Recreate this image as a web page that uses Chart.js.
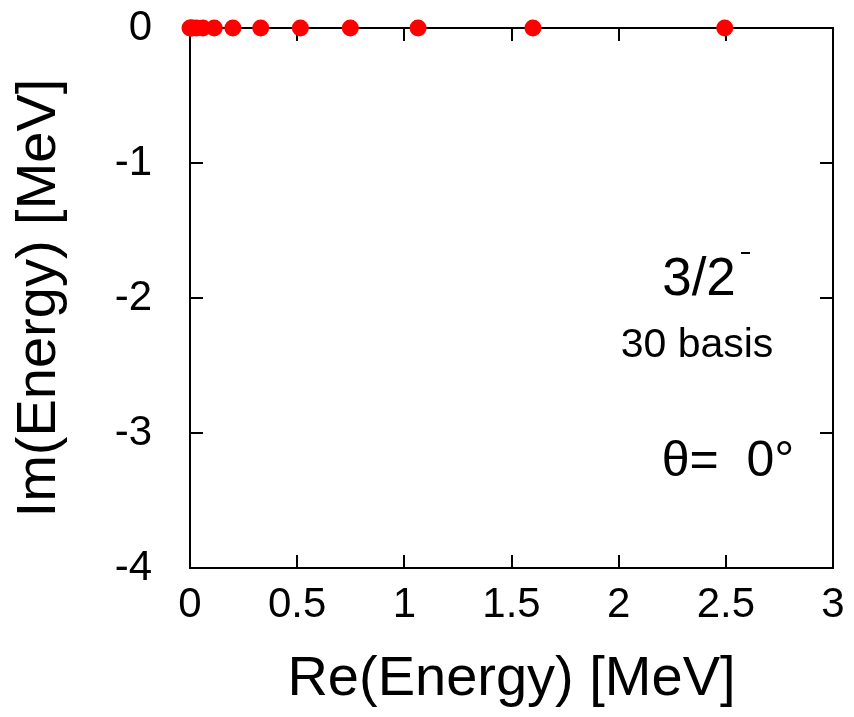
<!DOCTYPE html>
<html>
<head>
<meta charset="utf-8">
<script src="https://cdn.jsdelivr.net/npm/chart.js@4.4.1/dist/chart.umd.min.js"></script>
<style>
  html, body { margin: 0; padding: 0; background: #fff; }
  #wrap { width: 854px; height: 717px; }
</style>
</head>
<body>
<div id="wrap"><canvas id="chart" width="854" height="717"></canvas></div>
<script>
const reEnergy = [0.0, 0.004, 0.012, 0.03, 0.06, 0.113, 0.2, 0.33, 0.515, 0.748, 1.064, 1.6, 2.495];
const imEnergy = [0, 0, 0, 0, 0, 0, 0, 0, 0, 0, 0, 0, 0];

const xTitle = 'Re(Energy) [MeV]';
const yTitle = 'Im(Energy) [MeV]';
const stateLabel = '3/2';
const basisLabel = '30 basis';
const angleLabel = 'θ=  0°';

const FONT = '"Liberation Sans", Arial, sans-serif';

// gnuplot style frame: border + inward ticks mirrored on all four sides
const framePlugin = {
    id: 'frame',
    beforeDatasetsDraw(chart) {
        const { ctx, chartArea: a, scales: { x, y } } = chart;
        const len = 13;
        ctx.save();
        ctx.strokeStyle = '#000';
        ctx.lineWidth = 2;
        ctx.strokeRect(a.left, a.top, a.right - a.left, a.bottom - a.top);
        ctx.beginPath();
        x.ticks.forEach(t => {
            const px = Math.round(x.getPixelForValue(t.value));
            ctx.moveTo(px, a.bottom); ctx.lineTo(px, a.bottom - len);
            ctx.moveTo(px, a.top);    ctx.lineTo(px, a.top + len);
        });
        y.ticks.forEach(t => {
            const py = Math.round(y.getPixelForValue(t.value));
            ctx.moveTo(a.left, py);  ctx.lineTo(a.left + len, py);
            ctx.moveTo(a.right, py); ctx.lineTo(a.right - len, py);
        });
        ctx.stroke();
        ctx.restore();
    },
    afterDraw(chart) {
        const { ctx } = chart;
        ctx.save();
        ctx.fillStyle = '#000';
        ctx.textBaseline = 'alphabetic';
        ctx.textAlign = 'center';
        ctx.font = '53px ' + FONT;
        ctx.fillText(stateLabel, 699, 295);
        // superscript minus
        ctx.fillRect(741, 252, 9, 2);
        ctx.font = '41px ' + FONT;
        ctx.fillText(basisLabel, 697, 357);
        ctx.font = '50px ' + FONT;
        ctx.fillText(angleLabel, 728, 476);
        ctx.restore();
    }
};

// drop the padding chart.js reserves for overflowing end labels
const noOverflow = s => { s.paddingTop = 0; s.paddingBottom = 0; s.paddingLeft = 0; s.paddingRight = 0; };

new Chart(document.getElementById('chart').getContext('2d'), {
    type: 'scatter',
    data: {
        datasets: [{
            data: reEnergy.map((v, i) => ({ x: v, y: imEnergy[i] })),
            backgroundColor: '#ff0000',
            borderWidth: 0,
            pointRadius: 8.5,
            pointHoverRadius: 8.5,
            clip: false
        }]
    },
    options: {
        responsive: false,
        animation: false,
        events: [],
        layout: { padding: { top: 28, right: 21, left: 0, bottom: 0 } },
        plugins: { legend: { display: false }, tooltip: { enabled: false } },
        scales: {
            x: {
                type: 'linear',
                min: 0, max: 3,
                ticks: {
                    stepSize: 0.5, color: '#000', padding: 12, maxRotation: 0,
                    font: { family: FONT, size: 42 },
                    callback: v => String(v)
                },
                grid: { display: false, drawTicks: false },
                border: { display: false },
                title: { display: true, text: xTitle, color: '#000', font: { family: FONT, size: 56 }, padding: { top: 0, bottom: 4 } },
                afterFit(s) { s.height = 149; noOverflow(s); }
            },
            y: {
                type: 'linear',
                min: -4, max: 0,
                ticks: {
                    stepSize: 1, color: '#000', padding: 38,
                    font: { family: FONT, size: 42 },
                    callback: v => String(v)
                },
                grid: { display: false, drawTicks: false },
                border: { display: false },
                title: { display: true, text: yTitle, color: '#000', font: { family: FONT, size: 56 }, padding: { top: 6, bottom: 0 } },
                afterFit(s) { s.width = 190; noOverflow(s); }
            }
        }
    },
    plugins: [framePlugin]
});
</script>
</body>
</html>
